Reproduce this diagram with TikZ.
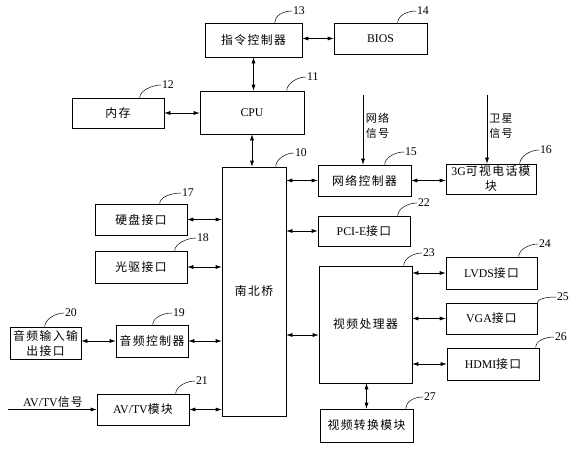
\documentclass[tikz,border=0pt]{standalone}
\usepackage{fontspec}
\setmainfont{Liberation Serif}
\newfontfamily\cjk{Noto Sans CJK SC}[LetterSpace=12]
\usetikzlibrary{arrows.meta,calc}
\newcommand\lbl[5]{\draw[lead] ($(#1.north west)+(#2,0)$) .. controls +(0,-7) and +(-9,0) .. (#3,#4) node[num]{#5};}
\begin{document}
\begin{tikzpicture}[x=1pt,y=-1pt,
  box/.style={draw,line width=0.6pt,inner sep=0pt,align=center,font=\fontsize{11.8}{15}\selectfont},
  dar/.style={{Latex[length=6pt,width=4pt]}-{Latex[length=6pt,width=4pt]},line width=0.6pt},
  sar/.style={-{Latex[length=6pt,width=4pt]},line width=0.6pt},
  lead/.style={line width=0.5pt},
  num/.style={anchor=west,inner sep=0.8pt,font=\fontsize{11.8}{12}\selectfont},
  txt/.style={inner sep=0pt,align=left,font=\fontsize{11}{15}\selectfont}]
\useasboundingbox (0,0) rectangle (575,450);
% boxes
\node[box,minimum width=97pt,minimum height=34pt] (ins) at (253.5,40) {\cjk 指令控制器};
\node[box,minimum width=93pt,minimum height=31pt] (bios) at (380.5,38.5) {BIOS};
\node[box,minimum width=104pt,minimum height=43pt] (cpu) at (252,112.5) {CPU};
\node[box,minimum width=92pt,minimum height=30pt] (mem) at (118,113) {\cjk 内存};
\node[box,minimum width=64pt,minimum height=249pt] (nb) at (254,291.5) {\cjk 南北桥};
\node[box,minimum width=93pt,minimum height=31pt] (net) at (364.5,180.5) {\cjk 网络控制器};
\node[box,minimum width=90pt,minimum height=30pt] (g3) at (491,179) {3G{\cjk 可视电话模}\\{\cjk 块}};
\node[box,minimum width=92pt,minimum height=30pt] (pci) at (364,231) {PCI-E{\cjk 接口}};
\node[box,minimum width=93pt,minimum height=117pt] (vp) at (365.5,324.5) {\cjk 视频处理器};
\node[box,minimum width=91pt,minimum height=32pt] (lvds) at (491.5,273) {LVDS{\cjk 接口}};
\node[box,minimum width=91pt,minimum height=31pt] (vga) at (491.5,318.5) {VGA{\cjk 接口}};
\node[box,minimum width=92pt,minimum height=32pt] (hdmi) at (493,364) {HDMI{\cjk 接口}};
\node[box,minimum width=93pt,minimum height=33pt] (conv) at (366.5,425.5) {\cjk 视频转换模块};
\node[box,minimum width=92pt,minimum height=31pt] (hd) at (141,219.5) {\cjk 硬盘接口};
\node[box,minimum width=92pt,minimum height=32pt] (od) at (141,267) {\cjk 光驱接口};
\node[box,minimum width=71pt,minimum height=32pt] (au) at (45.5,343) {\cjk 音频输入输\\\cjk 出接口};
\node[box,minimum width=72pt,minimum height=32pt] (ac) at (152,341) {\cjk 音频控制器};
\node[box,minimum width=92pt,minimum height=31pt] (av) at (143,409.5) {AV/TV{\cjk 模块}};
% connectors
\draw[dar] (ins.east |- bios.west) -- (bios.west);
\draw[dar] (ins.south) -- (ins.south |- cpu.north);
\draw[dar] (mem.east) -- (mem.east -| cpu.west);
\draw[dar] (cpu.south) -- (cpu.south |- nb.north);
\draw[dar] (nb.east |- net.west) -- (net.west);
\draw[dar] (net.east) -- (net.east -| g3.west);
\draw[dar] (nb.east |- pci.west) -- (pci.west);
\draw[dar] ($(nb.east |- vp.west)+(0,10.5)$) -- ($(vp.west)+(0,10.5)$);
\draw[dar] (vp.east |- lvds.west) -- (lvds.west);
\draw[dar] (vp.east |- vga.west) -- (vga.west);
\draw[dar] (vp.east |- hdmi.west) -- (hdmi.west);
\draw[dar] (conv.north) -- (conv.north |- vp.south);
\draw[dar] (hd.east) -- (hd.east -| nb.west);
\draw[dar] (od.east) -- (od.east -| nb.west);
\draw[dar] (au.east |- ac.west) -- (ac.west);
\draw[dar] (ac.east) -- (ac.east -| nb.west);
\draw[dar] (av.east) -- (av.east -| nb.west);
% inputs
\coordinate (netin) at (363,95);
\coordinate (satin) at (487,95);
\coordinate (avin) at (8,409.5);
\draw[sar] (netin) -- (netin |- net.north);
\draw[sar] (satin) -- (satin |- g3.north);
\draw[sar] (avin) -- (av.west);
\node[txt] (netlab) at (377.5,126) {\cjk 网络\\\cjk 信号};
\node[txt] (satlab) at (501,126) {\cjk 卫星\\\cjk 信号};
\node[txt,font=\fontsize{11.8}{14}\selectfont] (avlab) at (53,402) {AV/TV{\cjk 信号}};
% labels
\lbl{ins}{70}{292}{11}{13}
\lbl{bios}{64}{416}{11}{14}
\lbl{cpu}{87}{306}{77}{11}
\lbl{mem}{68}{161}{85}{12}
\lbl{nb}{54}{294}{153}{10}
\lbl{net}{67}{404}{152}{15}
\lbl{g3}{74}{539}{150}{16}
\lbl{pci}{80}{417}{203}{22}
\lbl{vp}{85}{422}{253}{23}
\lbl{lvds}{73}{538}{244}{24}
\draw[lead] (vga.north east) .. controls +(0,-4) and +(-9,0) .. (556,297) node[num]{25};
\lbl{hdmi}{89}{554}{337}{26}
\lbl{conv}{86}{423}{397}{27}
\lbl{hd}{65}{181}{193}{17}
\lbl{od}{80}{196}{238}{18}
\lbl{au}{35}{64}{313}{20}
\lbl{ac}{37}{172}{313}{19}
\lbl{av}{79}{195}{381}{21}
\end{tikzpicture}
\end{document}
